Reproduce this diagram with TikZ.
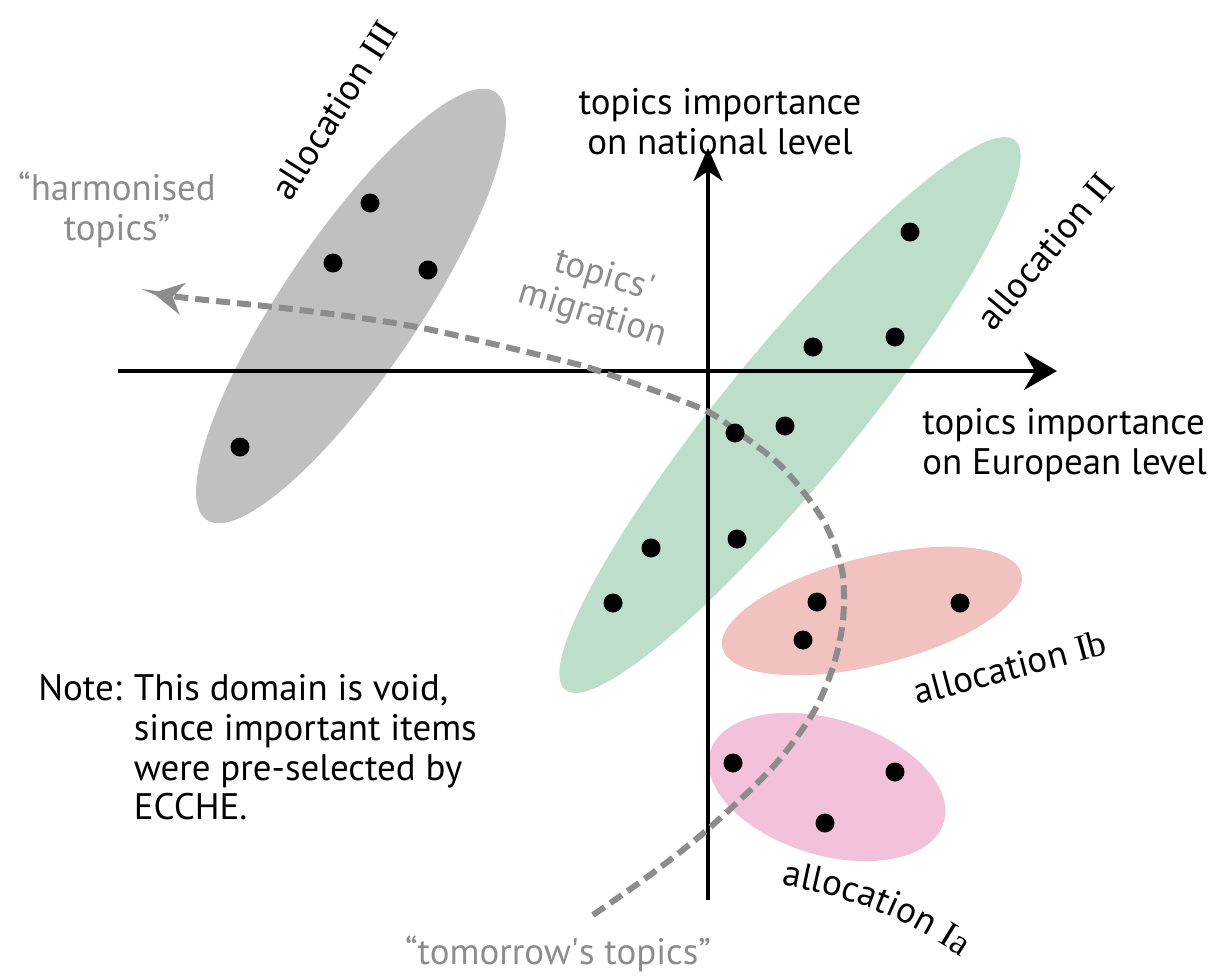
\documentclass[tikz,border=0pt]{standalone}
\usepackage{fontspec}
\setmainfont{PT Sans}
\newfontfamily\romfont{Liberation Serif}
\usetikzlibrary{arrows.meta,shapes.geometric,decorations.text}
\definecolor{allocgrey}{HTML}{C0C0C0}
\definecolor{allocgreen}{HTML}{BCDECB}
\definecolor{allocsalmon}{HTML}{F2C2C0}
\definecolor{allocpink}{HTML}{F3C1DA}
\definecolor{migrgrey}{HTML}{8C8C8C}
\newcommand{\labfont}{\fontsize{21}{22.7}\selectfont}

\begin{document}
\begin{tikzpicture}[x=0.2mm,y=-0.2mm,font=\labfont,
	blob/.style={ellipse,inner sep=0pt,draw=none},
	axis/.style={line width=0.8mm,-{Stealth[length=6.6mm,width=7.6mm,inset=2.2mm]}},
	migr/.style={draw=migrgrey,line width=1.2mm,dash pattern=on 2.8mm off 1.4mm,
		-{Stealth[length=6mm,width=6.4mm,inset=2mm,fill=migrgrey]}},
	greytext/.style={text=migrgrey,align=center,inner sep=0pt},
	alloclabel/.style={inner sep=0pt}]
	\useasboundingbox (0,0) rectangle (1228,978);
	% allocation domains
	\node[blob,fill=allocgrey,minimum width=103.2mm,minimum height=27.2mm,rotate=56] (allocIII) at (351,306) {};
	\node[blob,fill=allocgreen,minimum width=142mm,minimum height=26.4mm,rotate=50.7] (allocII) at (790,415) {};
	\node[blob,fill=allocsalmon,minimum width=61.6mm,minimum height=21.6mm,rotate=14] (allocIb) at (872,611) {};
	\node[blob,fill=allocpink,minimum width=48.8mm,minimum height=27.2mm,rotate=-17] (allocIa) at (827,787) {};
	% axes
	\coordinate (xstart) at (118,371);
	\coordinate (xend) at (1057,371);
	\coordinate (ystart) at (708,900);
	\coordinate (yend) at (708,148);
	\draw[axis] (xstart)--(xend);
	\draw[axis,-{Stealth[length=6.6mm,width=5.8mm,inset=2mm]}] (ystart)--(yend);
	\node[align=center,inner sep=0pt] (natlabel) at (720,122) {topics importance\\on national level};
	\node[align=left,anchor=west,inner sep=0pt] (eulabel) at (922,445) {topics importance\\on European level};
	% topics' migration
	\draw[migr] plot[smooth] coordinates {(593,915) (650,875) (707,830) (773,767) (813,713) (833,667)
		(843,620) (842,570) (823,520) (783,468) (735,430) (700,408) (602,372) (560,360) (417,327)
		(300,310) (187,298) (153,293)};
	\node[greytext] (harmlabel) at (117,210) {“harmonised\\topics”};
	\node[greytext,rotate=-17] (migrlabel) at (598,296) {topics\textquotesingle\\migration};
	\node[greytext] (tomorrowlabel) at (558,954) {“tomorrow\textquotesingle s topics”};
	% topics
	\foreach \x/\y in {370/203,333/263,428/270,240/447,
		910/232,813/347,895/337,735/433,785/426,651/548,737/539,613/603,
		817/602,803/640,960/603,
		733/763,895/772,825/823}
	\fill (\x,\y) circle (1.9mm);
	% labels
	\node[alloclabel,rotate=57.5] (labIII) at (334,110) {allocation {\romfont III}};
	\node[alloclabel,rotate=50] (labII) at (1045,251) {allocation {\romfont II}};
	\node[alloclabel,rotate=15] (labIb) at (1010,667) {allocation {\romfont Ib}};
	\path[decorate,decoration={text along path,text align=center,
		text={|\labfont|allocation |\labfont\romfont|Ia}}] (776,884) to[bend left=12] (966,960);
	\node[anchor=north west,inner sep=0pt] (note) at (38,672)
		{\begin{tabular}{@{}l@{\hspace{2.4mm}}l@{}}
			Note: & This domain is void,\\
			& since important items\\
			& were pre-selected by\\
			& ECCHE.
		\end{tabular}};
\end{tikzpicture}
\end{document}
